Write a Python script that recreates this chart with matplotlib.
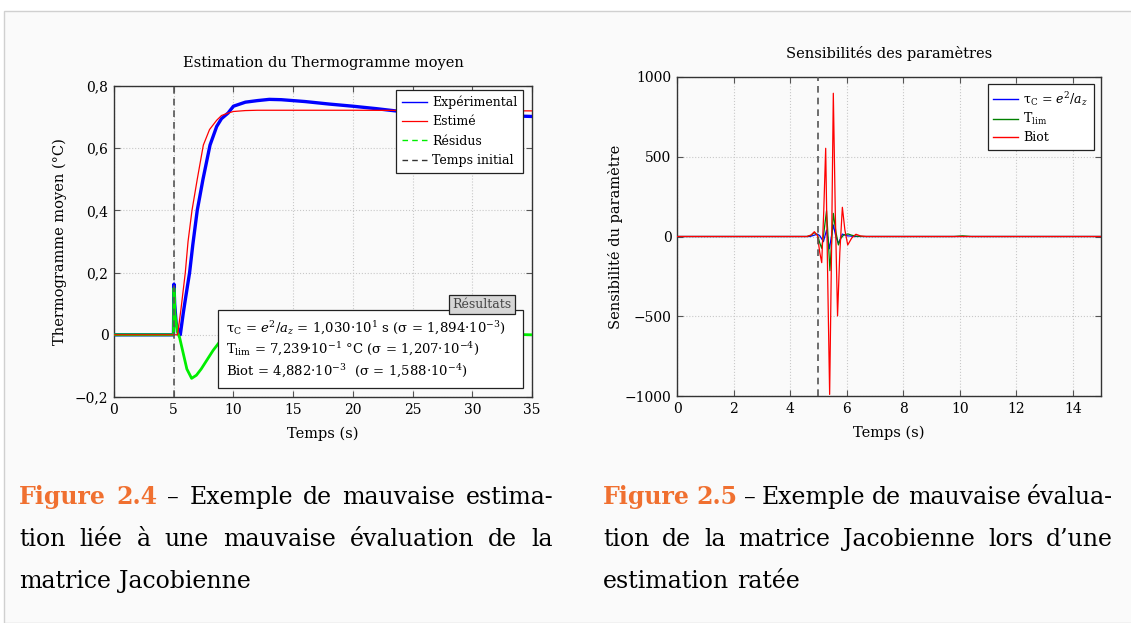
import numpy as np
import matplotlib.pyplot as plt
from matplotlib.lines import Line2D
from matplotlib.patches import Rectangle
from matplotlib.ticker import FuncFormatter

plt.rcParams['font.family'] = ['DejaVu Serif']
plt.rcParams['mathtext.fontset'] = 'dejavuserif'

# --- Figure 2.4 : thermogramme moyen ---
t_exp = [0, 4.98, 5.02, 5.08, 5.2, 5.4, 5.55, 5.8, 6.0, 6.33, 6.6, 6.97, 7.45, 8.04,
         8.6, 9.0, 9.55, 10.0, 11, 12, 13, 14, 16, 18, 20, 22, 24, 27, 30, 35]
T_exp = [0, 0, 0.163, 0.10, 0.04, 0.01, 0.0, 0.07, 0.12, 0.2, 0.29, 0.40, 0.50, 0.61,
         0.67, 0.695, 0.713, 0.735, 0.748, 0.753, 0.757, 0.756, 0.750, 0.742, 0.735,
         0.727, 0.718, 0.712, 0.708, 0.702]

t_est = [0, 5.3, 5.36, 5.6, 5.97, 6.2, 6.53, 6.97, 7.48, 8.0, 8.6, 9.0, 9.55, 10, 11,
         12, 14, 20, 35]
T_est = [0, 0, 0.01, 0.08, 0.2, 0.30, 0.40, 0.50, 0.61, 0.66, 0.69, 0.705, 0.713,
         0.718, 0.721, 0.722, 0.722, 0.722, 0.720]

t_res = [0, 4.98, 5.02, 5.1, 5.3, 5.5, 5.8, 6.1, 6.5, 6.9, 7.3, 7.8, 8.3, 8.8, 9.5,
         10, 11, 13, 15, 20, 25, 30, 35]
T_res = [0, 0, 0.15, 0.07, 0.01, -0.01, -0.06, -0.11, -0.14, -0.13, -0.11, -0.08,
         -0.05, -0.025, 0.0, 0.017, 0.026, 0.033, 0.032, 0.02, 0.01, 0.004, 0.0]

t_init = 5.0

# --- Figure 2.5 : sensibilites ---
t_tau = [0, 4.7, 4.85, 4.97, 5.05, 5.18, 5.29, 5.39, 5.53, 5.62, 5.71, 5.85, 6.0, 6.3, 15]
s_tau = [0, 0, 8, 15, 5, -32, 40, -77, 72, 0, -43, 15, 5, 0, 0]

t_tlim = [0, 4.6, 4.75, 4.85, 4.97, 5.05, 5.12, 5.2, 5.29, 5.35, 5.41, 5.47, 5.53,
          5.62, 5.71, 5.8, 5.9, 6.05, 6.18, 6.35, 6.6, 9.8, 10.1, 10.4, 15]
s_tlim = [0, 0, 8, 25, 10, -40, -74, 30, 162, -20, -214, -30, 145, 30, -53, -10, 10,
          16, 8, 2, 0, 0, 4, 0, 0]

t_biot = [0, 4.6, 4.75, 4.86, 4.97, 5.05, 5.12, 5.19, 5.26, 5.33, 5.40, 5.47, 5.53,
          5.60, 5.68, 5.76, 5.85, 5.94, 6.04, 6.18, 6.33, 6.5, 6.7, 15]
s_biot = [0, 0, 10, 30, 5, -100, -164, 150, 553, -250, -990, -50, 898, 150, -498,
          -100, 183, 40, -53, -10, 14, 3, 0, 0]

W, H = 1131, 623
fig = plt.figure(figsize=(W / 100, H / 100), dpi=100, facecolor='white')

# page background
fig.patches.append(Rectangle((4 / W, 0), 1.0, 1 - 11 / H, transform=fig.transFigure,
                             facecolor='#fafafa', edgecolor='#d0d0d0', lw=1.0, zorder=-10))


def style_axes(ax):
    ax.set_facecolor('none')
    ax.grid(True, linestyle=':', color='#c8c8c8', linewidth=0.8)
    ax.tick_params(direction='in', top=True, right=True, length=4, width=0.8,
                   color='#555555', labelsize=10, pad=4)
    for s in ax.spines.values():
        s.set_color('#333333')
        s.set_linewidth(1.0)


comma = FuncFormatter(lambda v, p: ('%g' % round(v, 3)).replace('.', ',').replace('-', '\u2212'))

# left panel
ax1 = fig.add_axes([114 / W, 1 - 397 / H, 418 / W, 311 / H])
style_axes(ax1)
ax1.plot(t_exp, T_exp, color='blue', lw=2.4, zorder=3)
ax1.plot(t_est, T_est, color='red', lw=0.9, zorder=4)
ax1.plot(t_res, T_res, color='#00ee00', lw=2.0, zorder=3)
ax1.axvline(t_init, color='#555555', lw=1.2, ls=(0, (4, 3)), zorder=5)
ax1.set_xlim(0, 35)
ax1.set_ylim(-0.2, 0.8)
ax1.set_xticks(np.arange(0, 36, 5))
ax1.set_yticks(np.arange(-0.2, 0.81, 0.2))
ax1.yaxis.set_major_formatter(comma)
ax1.set_title('Estimation du Thermogramme moyen', fontsize=10.5, pad=14)
ax1.set_xlabel('Temps (s)', fontsize=10.5, labelpad=7)
ax1.set_ylabel('Thermogramme moyen (°C)', fontsize=10.5, labelpad=6)

h1 = [Line2D([], [], color='blue', lw=1.0),
      Line2D([], [], color='red', lw=0.9),
      Line2D([], [], color='#00ee00', lw=1.0, ls=(0, (4, 3))),
      Line2D([], [], color='#333333', lw=1.0, ls=(0, (4, 3)))]
leg1 = ax1.legend(h1, ['Expérimental', 'Estimé', 'Résidus', 'Temps initial'],
                  loc='upper right', bbox_to_anchor=(0.978, 0.987), fontsize=9,
                  fancybox=False, framealpha=1, edgecolor='#222222', borderaxespad=0,
                  handlelength=2.0, handletextpad=0.4, labelspacing=0.5, borderpad=0.45)
leg1.get_frame().set_linewidth(0.9)
leg1.set_zorder(10)

# results box
ax1.add_patch(Rectangle((0.249, 0.029), 0.729, 0.251, transform=ax1.transAxes,
                        facecolor='white', edgecolor='#222222', lw=0.9, zorder=9))
res_txt = ('τ$_\\mathrm{C}$ = $e^2/a_z$ = 1,030·10$^{1}$ s (σ = 1,894·10$^{-3}$)\n'
           'T$_\\mathrm{lim}$ = 7,239·10$^{-1}$ °C (σ = 1,207·10$^{-4}$)\n'
           'Biot = 4,882·10$^{-3}$  (σ = 1,588·10$^{-4}$)')
ax1.text(0.268, 0.152, res_txt, transform=ax1.transAxes, fontsize=9.5, va='center',
         ha='left', linespacing=1.3, zorder=10)
ax1.text(0.880, 0.297, 'Résultats', transform=ax1.transAxes, fontsize=9, color='#444444',
         ha='center', va='center', zorder=11,
         bbox=dict(boxstyle='square,pad=0.25', fc='#d6d6d6', ec='#222222', lw=0.9))

# right panel
ax2 = fig.add_axes([677 / W, 1 - 396 / H, 424 / W, 319 / H])
style_axes(ax2)
ax2.plot(t_tau, s_tau, color='blue', lw=0.9, zorder=3)
ax2.plot(t_tlim, s_tlim, color='#008000', lw=0.9, zorder=4)
ax2.plot(t_biot, s_biot, color='red', lw=0.9, zorder=5)
ax2.axvline(t_init, color='#555555', lw=1.2, ls=(0, (4, 3)), zorder=6)
ax2.set_xlim(0, 15)
ax2.set_ylim(-1000, 1000)
ax2.set_xticks(np.arange(0, 15, 2))
ax2.set_yticks([-1000, -500, 0, 500, 1000])
ax2.yaxis.set_major_formatter(FuncFormatter(
    lambda v, p: ('%d' % v).replace('-', '\u2212')))
ax2.set_title('Sensibilités des paramètres', fontsize=10.5, pad=14)
ax2.set_xlabel('Temps (s)', fontsize=10.5, labelpad=7)
ax2.set_ylabel('Sensibilité du paramètre', fontsize=10.5, labelpad=1)
h2 = [Line2D([], [], color='blue', lw=1.0),
      Line2D([], [], color='#008000', lw=1.0),
      Line2D([], [], color='red', lw=1.0)]
leg2 = ax2.legend(h2, ['τ$_\\mathrm{C}$ = $e^2/a_z$', 'T$_\\mathrm{lim}$', 'Biot'],
                  loc='upper right', bbox_to_anchor=(0.983, 0.978), fontsize=9,
                  fancybox=False, framealpha=1, edgecolor='#222222', borderaxespad=0,
                  handlelength=2.0, handletextpad=0.4, labelspacing=0.3, borderpad=0.45)
leg2.get_frame().set_linewidth(0.9)

# captions (justified like the page)
cap_fs = 17
orange = '#f07030'
fig.canvas.draw()
renderer = fig.canvas.get_renderer()
space = cap_fs * 100 / 72 * 0.32


def put_line(x0, x1, y, words, justify):
    arts = [fig.text(0, 1 - y / H, w, fontsize=cap_fs, color=c, fontweight=fw,
                     va='baseline') for w, c, fw in words]
    widths = [a.get_window_extent(renderer).width for a in arts]
    gap = (x1 - x0 - sum(widths)) / (len(words) - 1) if justify else space
    x = x0
    for a, w in zip(arts, widths):
        a.set_x(x / W)
        x += w + gap


def caption(x0, x1, num, lines):
    ys = [504, 546, 588]
    for i, (y, ln) in enumerate(zip(ys, lines)):
        words = [(w, 'black', 'normal') for w in ln.split()]
        if i == 0:
            words = [('Figure', orange, 'bold'), (num, orange, 'bold')] + words
        put_line(x0, x1, y, words, i < len(lines) - 1)


caption(19, 553, '2.4', ['– Exemple de mauvaise estima-',
                         'tion liée à une mauvaise évaluation de la',
                         'matrice Jacobienne'])
caption(603, 1113, '2.5', ['– Exemple de mauvaise évalua-',
                           'tion de la matrice Jacobienne lors d\u2019une',
                           'estimation ratée'])

fig.savefig('out.png', dpi=100, facecolor='white')
